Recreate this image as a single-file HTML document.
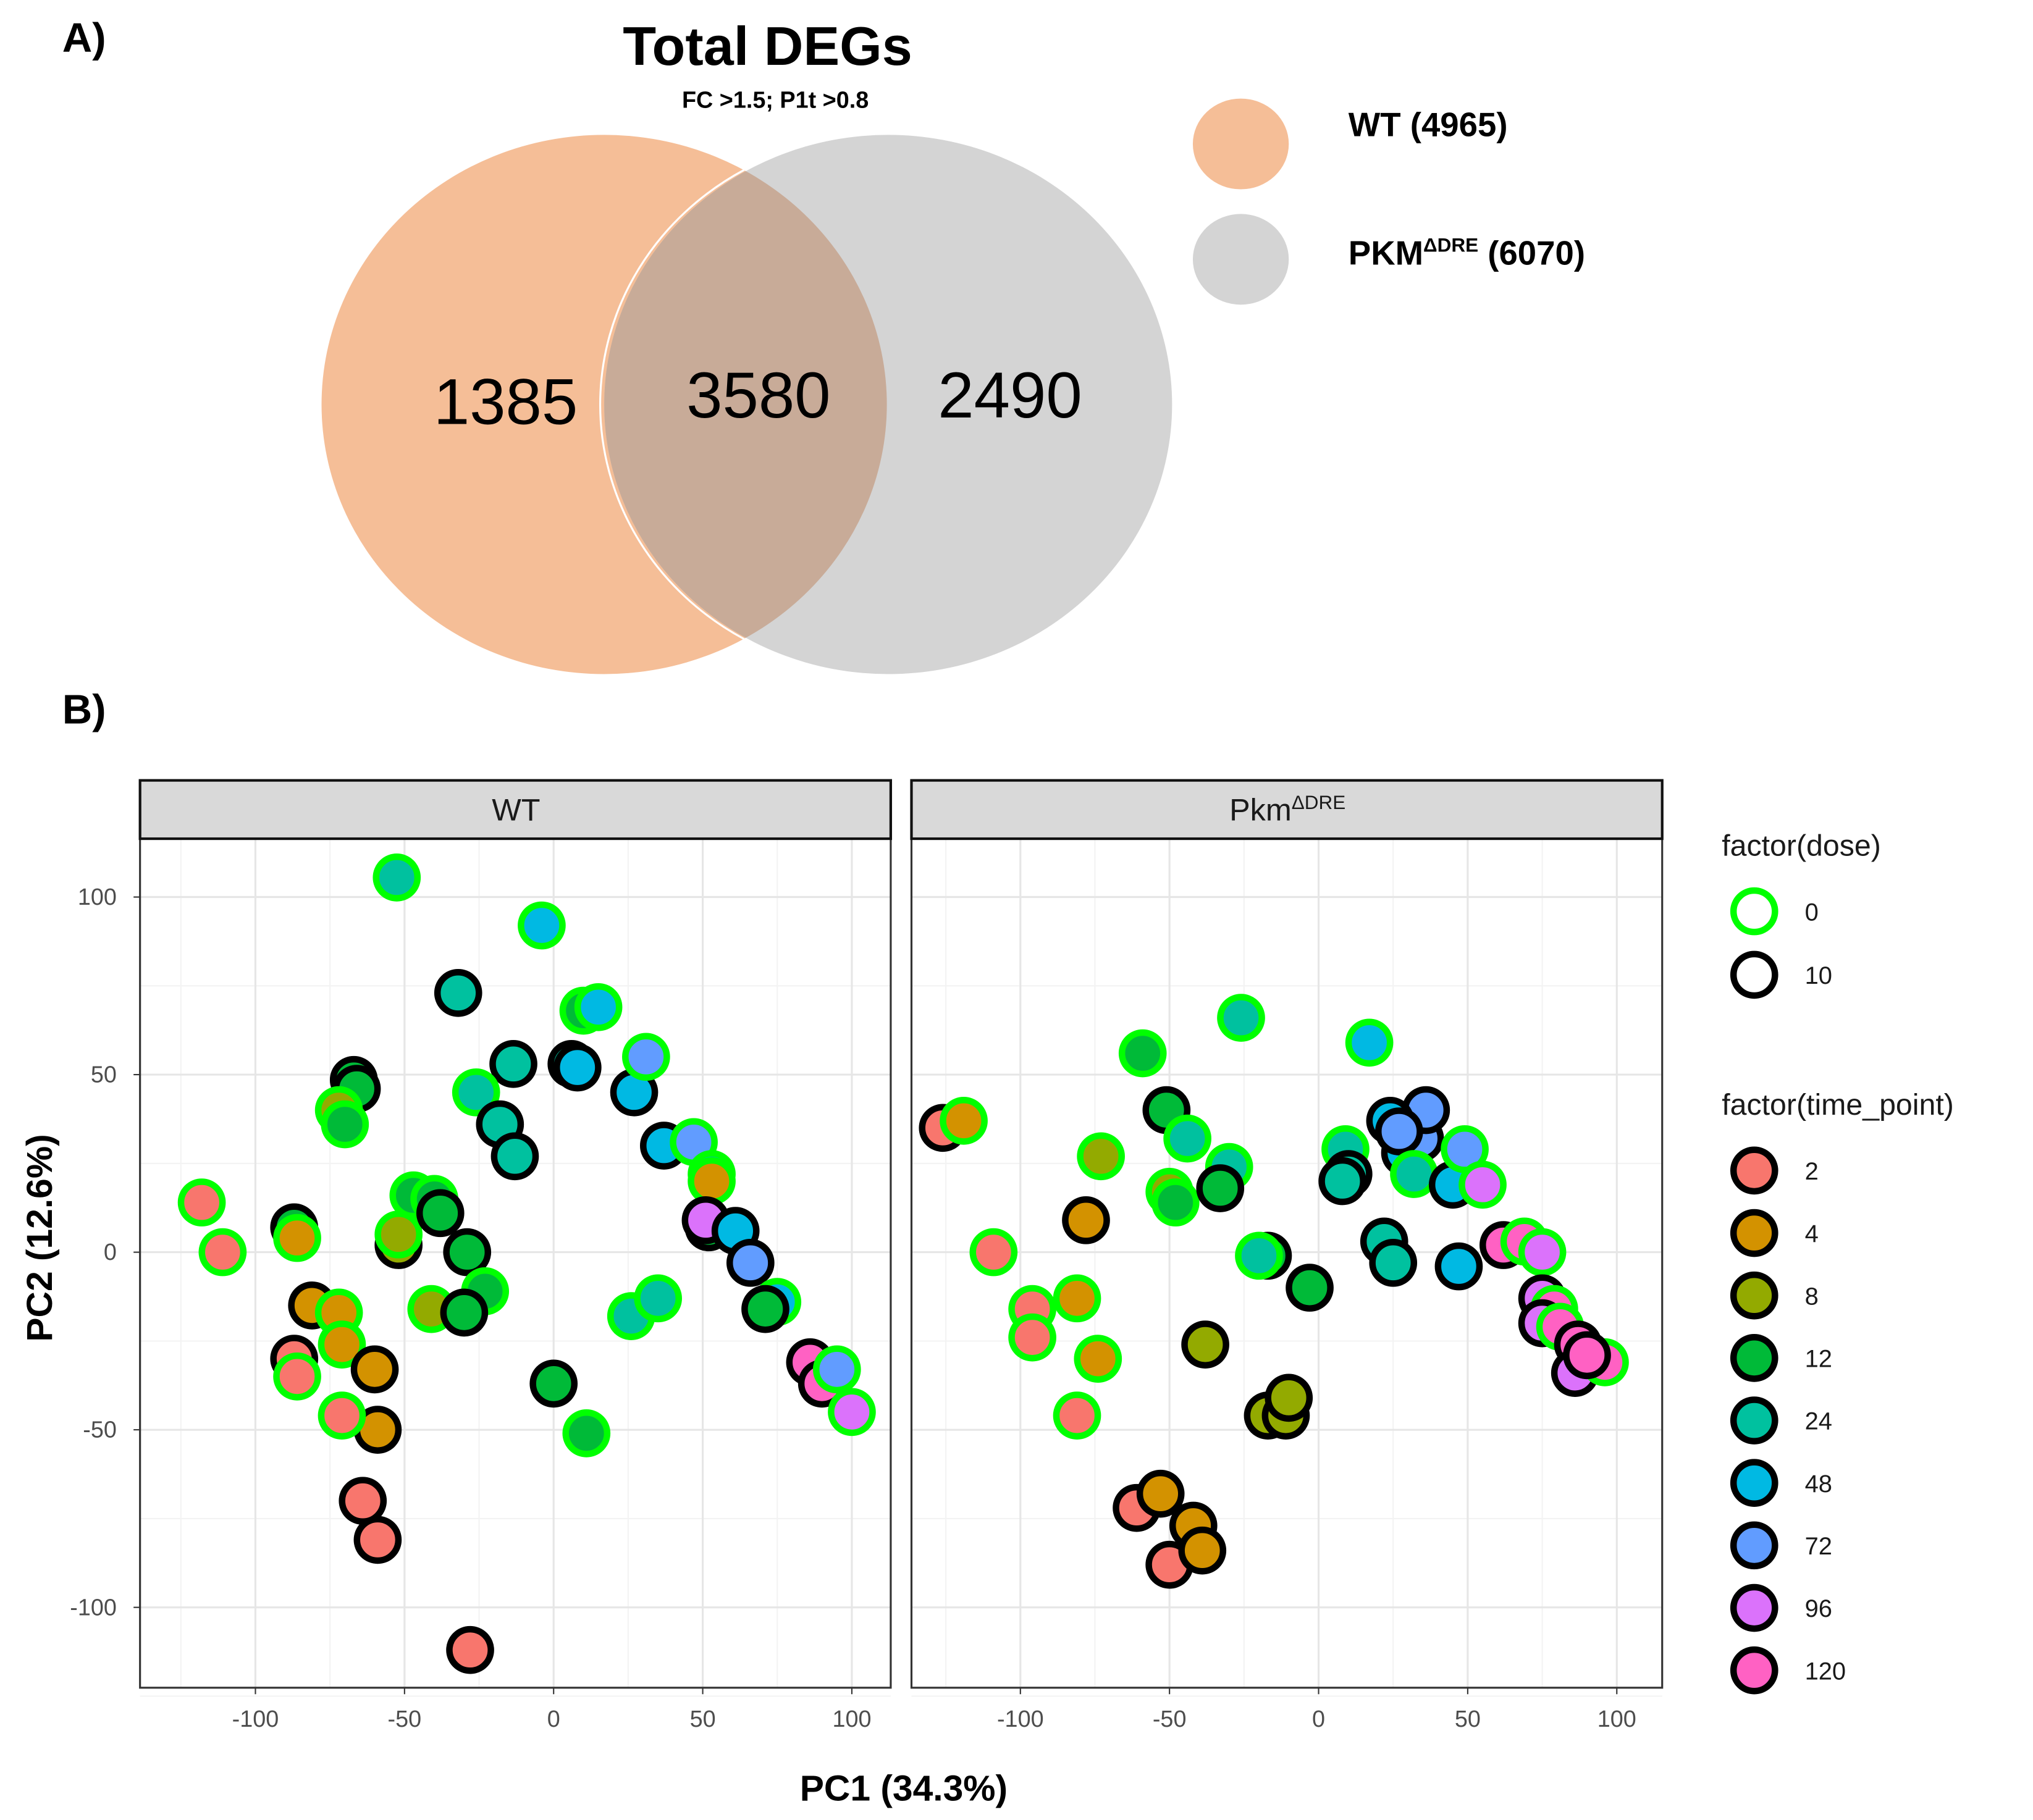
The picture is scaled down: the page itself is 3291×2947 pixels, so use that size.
<!DOCTYPE html>
<html><head><meta charset="utf-8"><style>
html,body{margin:0;padding:0;background:#fff}
svg{display:block}
text{font-family:"Liberation Sans","DejaVu Sans",sans-serif}
</style></head><body>
<svg id="fig" xmlns="http://www.w3.org/2000/svg" width="3291" height="2947" viewBox="0 0 1568 1404">
<defs>
<clipPath id="clipL"><ellipse cx="466" cy="312" rx="218" ry="208"/></clipPath>
<clipPath id="clipP1"><rect x="108" y="647" width="579" height="655"/></clipPath>
<clipPath id="clipP2"><rect x="703" y="647" width="579" height="655"/></clipPath>
</defs>
<text x="48" y="40" font-size="32" font-weight="bold">A)</text>
<text x="48" y="558" font-size="32" font-weight="bold">B)</text>
<g>
<text x="592" y="50" font-size="42" font-weight="bold" text-anchor="middle">Total DEGs</text>
<text x="598" y="83" font-size="18" font-weight="bold" text-anchor="middle">FC &gt;1.5; P1t &gt;0.8</text>
<ellipse cx="466" cy="312" rx="218" ry="208" fill="#F5BE97"/>
<ellipse cx="685" cy="312" rx="219" ry="208" fill="#D4D4D4"/>
<ellipse cx="685" cy="312" rx="219" ry="208" fill="#C8AB98" clip-path="url(#clipL)"/>
<path d="M 574 131 A 219 208 0 0 0 574 493" fill="none" stroke="#fff" stroke-width="1.5"/>
<text x="390" y="327" font-size="50" text-anchor="middle">1385</text>
<text x="585" y="322" font-size="50" text-anchor="middle">3580</text>
<text x="779" y="322" font-size="50" text-anchor="middle">2490</text>
<ellipse cx="957" cy="111" rx="37" ry="35" fill="#F5BE97"/>
<ellipse cx="957" cy="200" rx="37" ry="35" fill="#D4D4D4"/>
<text x="1040" y="105" font-size="26" font-weight="bold">WT (4965)</text>
<text x="1040" y="204" font-size="26" font-weight="bold">PKM<tspan font-size="15" dy="-10">ΔDRE</tspan><tspan dy="10"> (6070)</tspan></text>
</g>
<g id="pca"></g>
</svg>
<script>
const timeLevels=[2,4,8,12,24,48,72,96,120];
const timeColors=["#F8766D","#D39200","#93AA00","#00BA38","#00C19F","#00B9E3","#619CFF","#DB72FB","#FF61C3"];
const doseLevels=[0,10];
const xTicks=[-100,-50,0,50,100];
const yTicks=[100,50,0,-50,-100];
const wtX=[-52.6,-4,-32,-67,-66,-72,-70,-13.5,-26,-18,-13,10,15,6,8,27,31,37,47,53,53,52,51,61,66,75,71,86,90,95,100,-118,-111,-87,-86,-52,-52,-47,-40,-38,-29,-23,-81,-72,-87,-86,-71,-60,-59,-71,-64,-59,-28,-41,-30,0,11,26,35];
const wtY=[105.5,92,73,48.5,46,40,36,53,45,36,27,68,69,53,52,45,55,30,31,22,20,7,9,6,-3,-14,-16,-31,-37,-33,-45,14,0,7,4,2,5,16,15,11,0,-11,-15,-17,-30,-35,-26,-33,-50,-46,-70,-81,-112,-16,-17,-37,-51,-18,-13];
const wtT=[24,48,24,12,12,8,12,24,24,24,24,12,48,24,48,48,72,48,72,24,4,12,96,48,72,48,12,120,120,72,96,2,2,12,4,8,8,12,12,12,12,12,4,4,2,2,4,4,4,2,2,2,2,8,12,12,12,24,24];
const wtD=[0,0,10,10,10,0,0,10,0,10,10,0,0,10,10,10,0,10,0,0,0,10,10,10,10,0,10,10,10,0,0,0,0,10,0,10,0,0,0,10,10,0,10,0,10,0,0,10,10,0,10,10,10,0,10,10,0,0,0];
const pkX=[-126,-119,-109,-78,-73,-96,-96,-81,-74,-81,-59,-26,-51,-44,-30,-50,-48,-33,-17,-20,-3,-38,-17,-11,-10,-61,-53,-50,-42,-39,17,9,10,8,29,34,36,24,27,32,45,49,55,22,25,47,62,69,75,75,79,75,81,87,86,96,90];
const pkY=[35,37,0,9,27,-16,-24,-13,-30,-46,56,66,40,32,24,17,14,18,-1,-1,-10,-26,-46,-46,-41,-72,-68,-88,-77,-84,59,29,22,20,28,32,40,37,34,22,19,29,19,3,-3,-4,2,3,0,-13,-16,-20,-21,-26,-34,-31,-29];
const pkT=[2,4,2,4,8,2,2,4,4,2,12,24,12,24,24,8,12,12,12,24,12,8,8,8,8,2,4,2,4,4,48,24,24,24,48,72,72,48,72,24,48,72,96,24,24,48,120,120,96,96,120,96,120,120,96,120,120];
const pkD=[10,0,0,10,0,0,0,0,0,0,0,0,10,0,0,0,0,10,10,0,10,10,10,10,10,10,10,10,10,10,0,0,10,10,10,10,10,10,10,0,10,0,0,10,10,10,10,0,0,10,0,10,0,10,10,0,10];

const NS="http://www.w3.org/2000/svg";
const g=document.getElementById('pca');
function mk(tag,attrs,parent){const e=document.createElementNS(NS,tag);for(const k in attrs)e.setAttribute(k,attrs[k]);(parent||g).appendChild(e);return e;}
const yScale=v=>966-v*2.74;
const panels=[{x0:108,cx:427,title:"WT",X:wtX,Y:wtY,T:wtT,D:wtD,clip:"clipP1",name:"wt"},{x0:703,cx:1017,title:"Pkm",X:pkX,Y:pkY,T:pkT,D:pkD,clip:"clipP2",name:"pkm"}];
panels.forEach(p=>{
  const xScale=v=>p.cx+v*2.3;
  const pg=mk('g',{});
  
  
  mk('rect',{x:p.x0,y:647,width:579,height:655,fill:'#fff'},pg);
  // minor grid
  for(let v=-125;v<=125;v+=50){const l=mk('line',{x1:xScale(v),x2:xScale(v),y1:647,y2:1302,stroke:'#F3F3F3','stroke-width':1,'clip-path':'url(#'+p.clip+')'},pg);}
  for(let v=-125;v<=125;v+=50){mk('line',{x1:p.x0,x2:p.x0+579,y1:yScale(v),y2:yScale(v),stroke:'#F3F3F3','stroke-width':1},pg);}
  xTicks.forEach(v=>{const l=mk('line',{x1:xScale(v),x2:xScale(v),y1:647,y2:1302,stroke:'#E6E6E6','stroke-width':1.5},pg);
    
    
    const t=mk('text',{x:xScale(v),y:1332,'font-size':18,fill:'#4d4d4d','text-anchor':'middle'},pg);t.textContent=v;
    
    
    mk('line',{x1:xScale(v),x2:xScale(v),y1:1302,y2:1307,stroke:'#333','stroke-width':1},pg);});
  yTicks.forEach(v=>{const l=mk('line',{x1:p.x0,x2:p.x0+579,y1:yScale(v),y2:yScale(v),stroke:'#E6E6E6','stroke-width':1.5},pg);
    
    });
  // points
  p.X.forEach((xv,i)=>{
    const c=mk('circle',{cx:xScale(xv),cy:yScale(p.Y[i]),r:16,fill:timeColors[timeLevels.indexOf(p.T[i])],stroke:p.D[i]===0?'#00FF00':'#000','stroke-width':5,'clip-path':'url(#'+p.clip+')'},pg);
    
    
  });
  mk('rect',{x:p.x0,y:647,width:579,height:655,fill:'none',stroke:'#333','stroke-width':1.5},pg);
  const s=mk('rect',{x:p.x0,y:602,width:579,height:45,fill:'#D9D9D9',stroke:'#111','stroke-width':2},pg);
  
  
  const st=mk('text',{x:p.x0+290,y:633,'font-size':24,fill:'#1a1a1a','text-anchor':'middle'},pg);
  
  
  if(p.name==='wt'){st.textContent='WT';}else{st.innerHTML='Pkm<tspan font-size="15" dy="-9">ΔDRE</tspan>';}
});
yTicks.forEach(v=>{const t=mk('text',{x:90,y:yScale(v)+6,'font-size':18,fill:'#4d4d4d','text-anchor':'end'});t.textContent=v;
  
  
  mk('line',{x1:103,x2:108,y1:yScale(v),y2:yScale(v),stroke:'#333','stroke-width':1});});
const xt=mk('text',{x:697,y:1389,'font-size':28,'font-weight':'bold','text-anchor':'middle'});xt.textContent='PC1 (34.3%)';


const yt=mk('text',{x:0,y:0,'font-size':28,'font-weight':'bold','text-anchor':'middle',transform:'translate(40,955) rotate(-90)'});yt.textContent='PC2 (12.6%)';


// legends
const lt1=mk('text',{x:1328,y:660,'font-size':23,fill:'#1a1a1a'});lt1.textContent='factor(dose)';


doseLevels.forEach((d,i)=>{const y=703+i*49;
  const c=mk('circle',{cx:1353,cy:y,r:16,fill:'#fff',stroke:d===0?'#00FF00':'#000','stroke-width':5});
  
  
  const t=mk('text',{x:1392,y:y+7,'font-size':19,fill:'#1a1a1a'});t.textContent=d;
  
  });
const lt2=mk('text',{x:1328,y:860,'font-size':23,fill:'#1a1a1a'});lt2.textContent='factor(time_point)';


timeLevels.forEach((tv,i)=>{const y=903+i*48.2;
  const c=mk('circle',{cx:1353,cy:y,r:16,fill:timeColors[i],stroke:'#000','stroke-width':5});
  
  
  const t=mk('text',{x:1392,y:y+7,'font-size':19,fill:'#1a1a1a'});t.textContent=tv;
  
  });
</script>
</body></html>
